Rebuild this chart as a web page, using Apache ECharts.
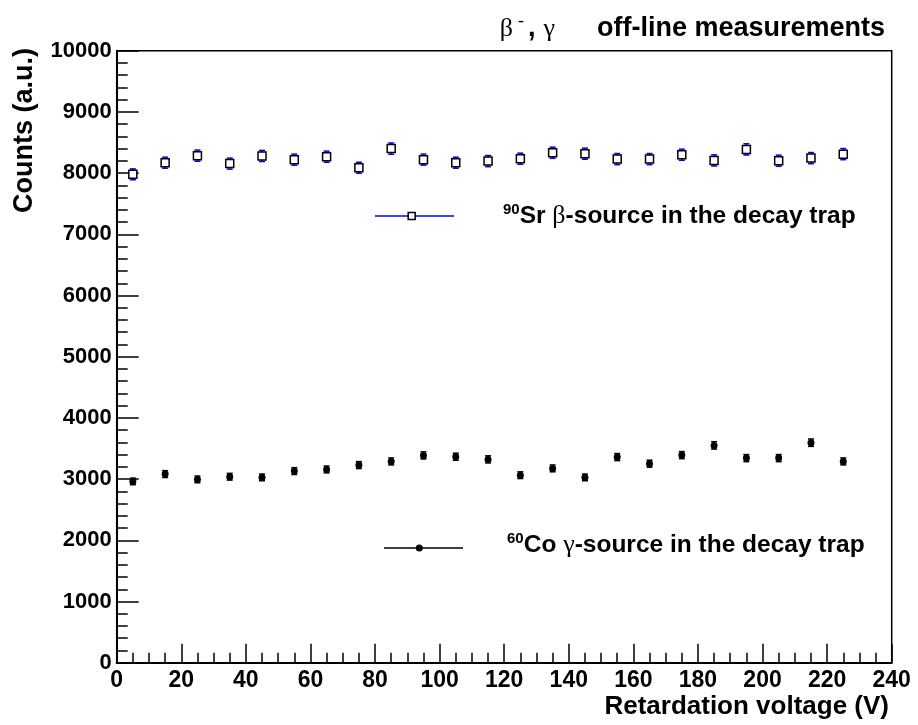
<!DOCTYPE html>
<html>
<head>
<meta charset="utf-8">
<script src="https://cdn.jsdelivr.net/npm/echarts@6/dist/echarts.min.js"></script>
<style>
html,body{margin:0;padding:0;background:#fff;}
#chart{width:918px;height:725px;}
</style>
</head>
<body>
<div id="chart"></div>
<script>
// ---- data ----
const voltages = [5,15,25,35,45,55,65,75,85,95,105,115,125,135,145,155,165,175,185,195,205,215,225];
const srCounts = [7980,8170,8285,8155,8280,8220,8268,8088,8400,8220,8170,8196,8235,8333,8317,8229,8229,8300,8207,8387,8203,8245,8310];
const srErrors = [89,90,91,90,91,91,91,90,92,91,90,91,91,91,91,91,91,91,91,92,91,91,91];
const coCounts = [2962,3082,2995,3039,3028,3131,3158,3229,3289,3387,3366,3322,3064,3175,3028,3360,3252,3392,3551,3343,3343,3595,3289];
const coErrors = [54,56,55,55,55,56,56,57,57,58,58,58,55,56,55,58,57,58,60,58,58,60,57];
const xTicks = {min:0, max:240, interval:20};
const yTicks = {min:0, max:10000, interval:1000};

const FONT = 'Liberation Sans, Arial, sans-serif';
const SERIF = 'Liberation Serif, Times New Roman, serif';

function pairs(xs, ys, es){ return xs.map((x,i)=>[x, ys[i], es[i]]); }

function errRender(color){
  return function(params, api){
    const x = api.value(0), y = api.value(1), e = api.value(2);
    const lo = api.coord([x, y - e]);
    const hi = api.coord([x, y + e]);
    const cap = 3;
    const st = {stroke: color, lineWidth: 1.5};
    return {type:'group', children:[
      {type:'line', shape:{x1:lo[0], y1:lo[1], x2:hi[0], y2:hi[1]}, style:st},
      {type:'line', shape:{x1:lo[0]-cap, y1:lo[1], x2:lo[0]+cap, y2:lo[1]}, style:st},
      {type:'line', shape:{x1:hi[0]-cap, y1:hi[1], x2:hi[0]+cap, y2:hi[1]}, style:st}
    ]};
  };
}

const chart = echarts.init(document.getElementById('chart'), null, {renderer:'canvas'});
const option = {
  animation:false,
  backgroundColor:'#fff',
  grid:{left:116.7, right:26.3, top:50.7, bottom:62.3, show:true, borderColor:'#000', borderWidth:1.5, containLabel:false},
  xAxis:{
    type:'value', min:xTicks.min, max:xTicks.max, interval:xTicks.interval,
    axisLine:{show:true, onZero:false, lineStyle:{color:'#000', width:2}},
    axisTick:{show:true, inside:true, length:19, lineStyle:{color:'#000', width:1.5}},
    minorTick:{show:true, splitNumber:4, length:10, lineStyle:{color:'#000', width:1.5}},
    splitLine:{show:false},
    axisLabel:{show:true, margin:6, fontFamily:FONT, fontWeight:'bold', fontSize:23, color:'#000',
      formatter:v=>String(v)}
  },
  yAxis:{
    type:'value', min:yTicks.min, max:yTicks.max, interval:yTicks.interval,
    axisLine:{show:true, onZero:false, lineStyle:{color:'#000', width:2}},
    axisTick:{show:true, inside:true, length:22, lineStyle:{color:'#000', width:1.5}},
    minorTick:{show:true, splitNumber:5, length:11, lineStyle:{color:'#000', width:1.5}},
    splitLine:{show:false},
    axisLabel:{show:true, margin:5, fontFamily:FONT, fontWeight:'bold', fontSize:22, color:'#000',
      formatter:v=>String(v)}
  },
  series:[
    {type:'custom', name:'srErr', renderItem:errRender('#0000ff'), data:pairs(voltages, srCounts, srErrors), z:2, silent:true},
    {type:'custom', name:'coErr', renderItem:errRender('#000'), data:pairs(voltages, coCounts, coErrors), z:2, silent:true},
    {type:'scatter', name:'Sr', data:voltages.map((x,i)=>[x, srCounts[i]]), symbol:'rect', symbolSize:8,
      itemStyle:{color:'#fff', borderColor:'#000', borderWidth:1.5, opacity:1}, z:3},
    {type:'scatter', name:'Co', data:voltages.map((x,i)=>[x, coCounts[i]]), symbol:'circle', symbolSize:7,
      itemStyle:{color:'#000', opacity:1}, z:3}
  ],
  graphic:[
    // title
    {type:'text', right:33, top:12, style:{
      text:'{g|β}{sup|-}{c|,}{g2|γ}{b|off-line measurements}',
      rich:{
        g:{fontFamily:SERIF, fontSize:26, fill:'#000'},
        sup:{fontFamily:SERIF, fontSize:18, fill:'#000', verticalAlign:'top', padding:[0,0,16,5]},
        c:{fontFamily:FONT, fontWeight:'bold', fontSize:27, fill:'#000', padding:[0,0,0,4]},
        g2:{fontFamily:SERIF, fontSize:26, fill:'#000', padding:[0,0,0,8]},
        b:{fontFamily:FONT, fontWeight:'bold', fontSize:27, fill:'#000', padding:[0,0,0,42]}
      }}},
    // y axis title
    {type:'text', x:25, y:48, rotation:Math.PI/2, style:{
      text:'Counts (a.u.)', fontFamily:FONT, fontWeight:'bold', fontSize:27, fill:'#000',
      align:'right', verticalAlign:'middle'}},
    // x axis title
    {type:'text', x:889, y:707, style:{
      text:'Retardation voltage (V)', fontFamily:FONT, fontWeight:'bold', fontSize:26, fill:'#000',
      align:'right', verticalAlign:'middle'}},
    // Sr legend
    {type:'line', shape:{x1:375, y1:216, x2:454, y2:216}, style:{stroke:'#0000ff', lineWidth:1.5}},
    {type:'rect', shape:{x:408.2, y:212.5, width:7, height:7}, style:{fill:'#fff', stroke:'#000', lineWidth:1.5}},
    {type:'text', x:503, y:216, style:{
      text:'{sup|90}{b|Sr }{g|β}{b|-source in the decay trap}',
      verticalAlign:'middle',
      rich:{
        sup:{fontFamily:FONT, fontWeight:'bold', fontSize:15, fill:'#000', padding:[0,0,12,0]},
        b:{fontFamily:FONT, fontWeight:'bold', fontSize:24.5, fill:'#000'},
        g:{fontFamily:SERIF, fontSize:26, fill:'#000'}
      }}},
    // Co legend
    {type:'line', shape:{x1:384, y1:548, x2:463, y2:548}, style:{stroke:'#000', lineWidth:1.5}},
    {type:'circle', shape:{cx:419.3, cy:548, r:3.5}, style:{fill:'#000'}},
    {type:'text', x:507, y:545, style:{
      text:'{sup|60}{b|Co }{g|γ}{b|-source in the decay trap}',
      verticalAlign:'middle',
      rich:{
        sup:{fontFamily:FONT, fontWeight:'bold', fontSize:15, fill:'#000', padding:[0,0,12,0]},
        b:{fontFamily:FONT, fontWeight:'bold', fontSize:24.5, fill:'#000'},
        g:{fontFamily:SERIF, fontSize:26, fill:'#000'}
      }}}
  ]
};
chart.setOption(option);
</script>
</body>
</html>
